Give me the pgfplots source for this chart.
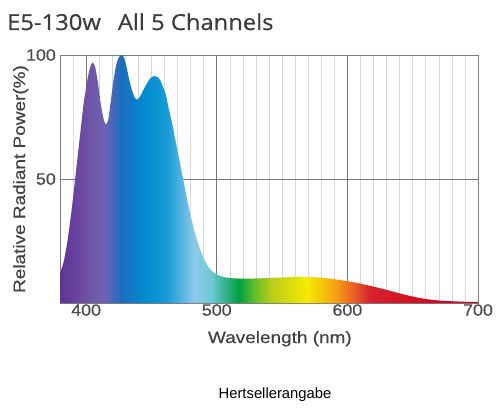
\documentclass[border=0pt]{standalone}
\usepackage{pgfplots}
\pgfplotsset{compat=1.18}
\usepackage{fontspec}
\setmainfont{Liberation Sans}
\newfontfamily\titlefont{Open Sans}[FakeStretch=1.08, FakeBold=0.6]
\newfontfamily\labfont{Liberation Sans}[FakeStretch=1.15, FakeBold=0.5]
\newfontfamily\tickfont{Liberation Sans}[FakeStretch=1.08, FakeBold=0.5]

\definecolor{titlegray}{RGB}{60,60,60}
\definecolor{labgray}{RGB}{65,65,65}
\definecolor{tickgray}{RGB}{75,75,75}
\definecolor{majgrid}{RGB}{120,120,120}
\definecolor{mingrid}{RGB}{215,215,215}
\definecolor{framegray}{RGB}{125,125,125}

\definecolor{c380}{RGB}{95,50,150}
\definecolor{c401}{RGB}{112,82,165}
\definecolor{c414}{RGB}{110,100,178}
\definecolor{c427}{RGB}{25,110,190}
\definecolor{c444}{RGB}{0,138,208}
\definecolor{c462}{RGB}{25,155,215}
\definecolor{c483}{RGB}{140,202,235}
\definecolor{c496}{RGB}{110,200,212}
\definecolor{c505}{RGB}{60,180,150}
\definecolor{c517}{RGB}{0,160,65}
\definecolor{c529}{RGB}{100,190,40}
\definecolor{c542}{RGB}{185,205,25}
\definecolor{c569}{RGB}{245,235,0}
\definecolor{c591}{RGB}{245,160,20}
\definecolor{c607}{RGB}{232,85,40}
\definecolor{c617}{RGB}{215,35,45}
\definecolor{c661}{RGB}{208,12,32}
\definecolor{c700}{RGB}{195,0,30}

% position = 25 + (lambda-380)*50/320 bp
\pgfdeclarehorizontalshading{spectrum}{100bp}{%
color(0bp)=(c380); color(25bp)=(c380); color(28.28bp)=(c401);
color(30.31bp)=(c414); color(32.34bp)=(c427); color(35bp)=(c444);
color(37.81bp)=(c462); color(41.09bp)=(c483); color(43.13bp)=(c496);
color(44.53bp)=(c505); color(46.41bp)=(c517); color(48.28bp)=(c529);
color(50.31bp)=(c542); color(54.53bp)=(c569); color(57.97bp)=(c591);
color(60.47bp)=(c607); color(62.03bp)=(c617); color(68.91bp)=(c661);
color(75bp)=(c700); color(100bp)=(c700)}

\pgfplotstableread{
lam val
380 12
383 17
386 26
389 38
392 52
395 66
398 80
401 90
403 95
405 97
407 95
409 89
411 81
413 75
415 72
417 74
419 82
421 90
423 96
425 99
427 100
429 99
431 95
433 90
435 86
437 83
439 82
441 83
443 85
446 88
449 90.5
452 91.5
455 91
457 89.5
459 87
461 84
463 79
466 72
469 64
472 56
475 48
478 40
481 33
484 27
487 22
490 18
493 15
496 13
500 11.5
505 10.5
512 10
520 9.8
530 9.9
540 10.1
550 10.3
560 10.5
570 10.5
580 10.2
590 9.6
600 8.8
610 7.8
620 6.6
630 5.3
640 3.9
650 2.6
660 1.6
670 1.0
680 0.7
690 0.5
700 0.5
}\spectrumdata

\begin{document}
\begin{tikzpicture}
\path[use as bounding box] (0pt,0pt) rectangle (497pt,408pt);
\begin{axis}[
  at={(60pt,105pt)}, anchor=south west,
  width=418pt, height=248pt, scale only axis,
  xmin=380, xmax=700, ymin=0, ymax=100,
  xtick={400,500,600,700}, ytick={50,100},
  minor xtick={380,390,...,700},
  xmajorgrids, xminorgrids, ymajorgrids,
  major grid style={draw=majgrid, line width=0.8pt},
  minor grid style={draw=mingrid, line width=0.6pt},
  axis line style={draw=framegray, line width=0.8pt},
  major tick length=0pt, minor tick length=0pt,
  /pgf/number format/assume math mode=true,
  tick label style={font=\tickfont\fontsize{16.5}{18}\selectfont, text=tickgray},
  xticklabel style={inner sep=1pt},
  yticklabel style={inner sep=4pt},
  xlabel={Wavelength (nm)},
  ylabel={Relative Radiant Power(\%)},
  label style={font=\labfont\fontsize{16.5}{18}\selectfont, text=labgray},
  xlabel style={at={(axis description cs:0.526,-0.1613)}, anchor=base},
  ylabel style={at={(axis description cs:-0.0837,0.5)}, anchor=base},
]
\addplot[draw=none, shading=spectrum, smooth, tension=0.4] table[x=lam, y=val] {\spectrumdata} \closedcycle;
\end{axis}
\node[anchor=base west, inner sep=0pt, text=titlegray, font=\titlefont\fontsize{22}{25}\selectfont] at (7pt,378pt) {E5-130w\hspace{17pt}All 5 Channels};
\node[anchor=base, inner sep=0pt, text=black, font=\fontsize{14.8}{16}\selectfont] at (275pt,10pt) {Hertsellerangabe};
\end{tikzpicture}
\end{document}
